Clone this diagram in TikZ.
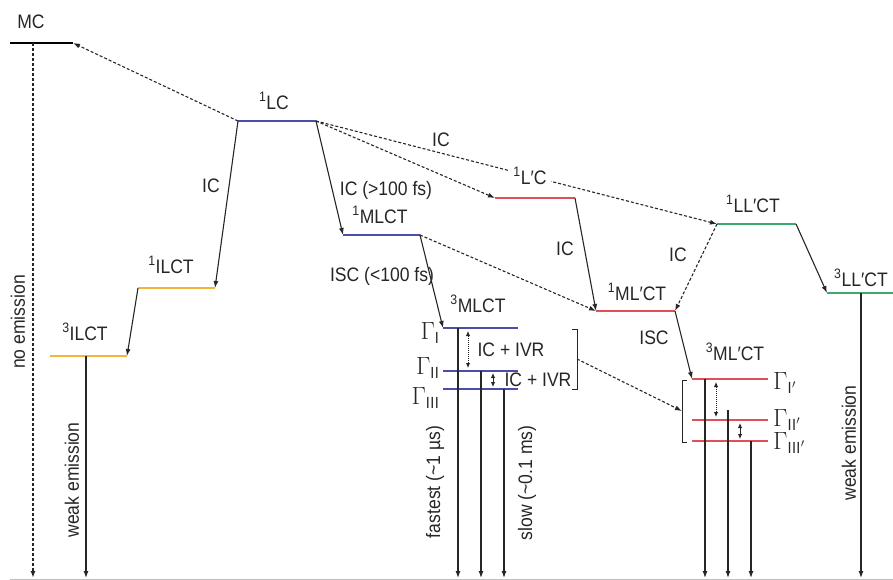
\documentclass[tikz,border=0pt]{standalone}
\usepackage{fontspec}
\setmainfont{Liberation Sans}[FakeStretch=0.9]
\usetikzlibrary{arrows.meta}

\definecolor{lvblue}{HTML}{4A4EA8}
\definecolor{lvorange}{HTML}{F5B53A}
\definecolor{lvred}{HTML}{E0505A}
\definecolor{lvgreen}{HTML}{3CAA6C}

\begin{document}
\begin{tikzpicture}[x=1pt, y=-1pt,
  lvl/.style={line width=2.2pt},
  trans/.style={->, line width=1.1pt, black!85},
  nonrad/.style={trans, dash pattern=on 3pt off 2pt},
  relax/.style={<->, line width=0.9pt, black!85, >={Latex[length=5pt,width=4.5pt]}},
  lbl/.style={font=\fontsize{19.5}{22}\selectfont, text=black!85, inner sep=1pt},
  gam/.style={font=\fontsize{23}{26}\selectfont, text=black!85, inner sep=1pt},
  >={Latex[length=7pt,width=5pt]}
]
\useasboundingbox (0,0) rectangle (893,580);

% baseline (ground state)
\coordinate (base) at (0,578);
\draw[black!25, line width=0.8pt] (10,579) -- (893,579);

% === Level end points ===
\coordinate (MC-l)    at (10,43);  \coordinate (MC-r)    at (73,43);
\coordinate (LC-l)    at (238,121);\coordinate (LC-r)    at (316,121);
\coordinate (ILCT1-l) at (138,288);\coordinate (ILCT1-r) at (215,288);
\coordinate (ILCT3-l) at (50,356); \coordinate (ILCT3-r) at (127,356);
\coordinate (MLCT-l)  at (343,235);\coordinate (MLCT-r)  at (420,235);
\coordinate (LpC-l)   at (495,198);\coordinate (LpC-r)   at (575,198);
\coordinate (MLpCT-l) at (596,311);\coordinate (MLpCT-r) at (675,311);
\coordinate (LLpCT-l) at (717,224);\coordinate (LLpCT-r) at (796,224);
\coordinate (LLpT-l)  at (827,293);\coordinate (LLpT-r)  at (893,293);

% 3MLCT sublevels
\coordinate (G1-l) at (443,328); \coordinate (G1-r) at (518,328);
\coordinate (G2-l) at (443,371); \coordinate (G2-r) at (518,371);
\coordinate (G3-l) at (443,389); \coordinate (G3-r) at (518,389);
% 3ML'CT sublevels
\coordinate (H1-l) at (692,379); \coordinate (H1-r) at (768,379);
\coordinate (H2-l) at (692,420); \coordinate (H2-r) at (768,420);
\coordinate (H3-l) at (692,441); \coordinate (H3-r) at (768,441);

% === Levels ===
\draw[lvl, black]    (MC-l) -- (MC-r);
\draw[lvl, lvblue]   (LC-l) -- (LC-r);
\draw[lvl, lvorange] (ILCT1-l) -- (ILCT1-r);
\draw[lvl, lvorange] (ILCT3-l) -- (ILCT3-r);
\draw[lvl, lvblue]   (MLCT-l) -- (MLCT-r);
\draw[lvl, lvred]    (LpC-l) -- (LpC-r);
\draw[lvl, lvred]    (MLpCT-l) -- (MLpCT-r);
\draw[lvl, lvgreen]  (LLpCT-l) -- (LLpCT-r);
\draw[lvl, lvgreen]  (LLpT-l) -- (LLpT-r);
\draw[lvl, lvblue]   (G1-l) -- (G1-r);
\draw[lvl, lvblue]   (G2-l) -- (G2-r);
\draw[lvl, lvblue]   (G3-l) -- (G3-r);
\draw[lvl, lvred]    (H1-l) -- (H1-r);
\draw[lvl, lvred]    (H2-l) -- (H2-r);
\draw[lvl, lvred]    (H3-l) -- (H3-r);

% === Non-radiative transitions ===
\draw[nonrad] (LC-l) -- (MC-r);
\draw[trans]  (LC-l) -- (ILCT1-r);
\draw[trans]  (ILCT1-l) -- (ILCT3-r);
\draw[trans]  (LC-r) -- (MLCT-l);
\draw[nonrad] (LC-r) -- (LpC-l);
\draw[nonrad] (LC-r) -- (LLpCT-l);
\draw[trans]  (MLCT-r) -- (G1-l);
\draw[nonrad] (MLCT-r) -- (MLpCT-l);
\draw[trans]  (LpC-r) -- (MLpCT-l);
\draw[nonrad] (LLpCT-l) -- (MLpCT-r);
\draw[trans]  (LLpCT-r) -- (LLpT-l);
\draw[trans]  (MLpCT-r) -- (H1-l);

% relaxation inside the triplet manifolds
\draw[relax, dash pattern=on 1pt off 1pt] (468,331) -- (468,368);
\draw[relax] (493,373) -- (493,387);
\draw[relax, dash pattern=on 1pt off 1pt] (716,382) -- (716,417);
\draw[relax] (740,423) -- (740,439);

% brackets
\coordinate (brR) at (577,359);
\coordinate (brL) at (682,411);
\draw[line width=1pt, black!85] (572,329) -- (577,329) -- (577,389) -- (572,389);
\draw[line width=1pt, black!85] (687,380) -- (682,380) -- (682,442) -- (687,442);
\draw[nonrad] (brR) -- (brL);

% === Emission to the ground state ===
\coordinate (em0) at (33,43);
\coordinate (em1) at (86,356);
\coordinate (em2) at (458,328);
\coordinate (em3) at (481,371);
\coordinate (em4) at (504,389);
\coordinate (em5) at (705,379);
\coordinate (em6) at (728,410);
\coordinate (em7) at (751,441);
\coordinate (em8) at (861,293);
\draw[nonrad, line width=1.4pt] (em0) -- (em0 |- base);
\foreach \e in {em1,em2,em3,em4,em5,em6,em7,em8}
  \draw[trans] (\e) -- (\e |- base);

% === State labels ===
\node[lbl] (MC)    at (31,22)   {MC};
\node[lbl] (LC)    at (274,101) {\textsuperscript{1}LC};
\node[lbl] (ILCT1) at (171,265) {\textsuperscript{1}ILCT};
\node[lbl] (ILCT3) at (85,332)  {\textsuperscript{3}ILCT};
\node[lbl] (MLCT1) at (380,215) {\textsuperscript{1}MLCT};
\node[lbl, fill=white, inner sep=4pt] (LpC) at (530,176) {\textsuperscript{1}L′C};
\node[lbl] (MLpCT1) at (637,292) {\textsuperscript{1}ML′CT};
\node[lbl] (LLpCT1) at (753,204) {\textsuperscript{1}LL′CT};
\node[lbl] (LLpCT3) at (861,278) {\textsuperscript{3}LL′CT};
\node[lbl] (MLCT3)  at (478,304) {\textsuperscript{3}MLCT};
\node[lbl] (MLpCT3) at (735,352) {\textsuperscript{3}ML′CT};

% transition labels
\node[lbl] (ic1) at (211,186) {IC};
\node[lbl] (ic2) at (441,140) {IC};
\node[lbl] (ic3) at (386,190) {IC (>100 fs)};
\node[lbl] (isc1) at (382,276) {ISC (<100 fs)};
\node[lbl] (ic4) at (565,249) {IC};
\node[lbl] (ic5) at (678,255) {IC};
\node[lbl] (isc2) at (654,338) {ISC};
\node[lbl] (ivr1) at (511,350) {IC + IVR};
\node[lbl] (ivr2) at (538,380) {IC + IVR};

% sublevel labels
\node[gam, anchor=east] (g1) at (441,333) {$\Gamma_{\mathrm{I}}$};
\node[gam, anchor=east] (g2) at (441,368) {$\Gamma_{\mathrm{II}}$};
\node[gam, anchor=east] (g3) at (441,398) {$\Gamma_{\mathrm{III}}$};
\node[gam, anchor=west] (h1) at (772,383) {$\Gamma_{\mathrm{I}'}$};
\node[gam, anchor=west] (h2) at (772,420) {$\Gamma_{\mathrm{II}'}$};
\node[gam, anchor=west] (h3) at (772,443) {$\Gamma_{\mathrm{III}'}$};

% emission labels
\node[lbl, rotate=90] (noem)  at (18,322)  {no emission};
\node[lbl, rotate=90] (weak1) at (72,480)  {weak emission};
\node[lbl, rotate=90] (fast)  at (435,482) {fastest (\textasciitilde 1 µs)};
\node[lbl, rotate=90] (slow)  at (527,483) {slow (\textasciitilde 0.1 ms)};
\node[lbl, rotate=90] (weak2) at (849,443) {weak emission};
\end{tikzpicture}
\end{document}
